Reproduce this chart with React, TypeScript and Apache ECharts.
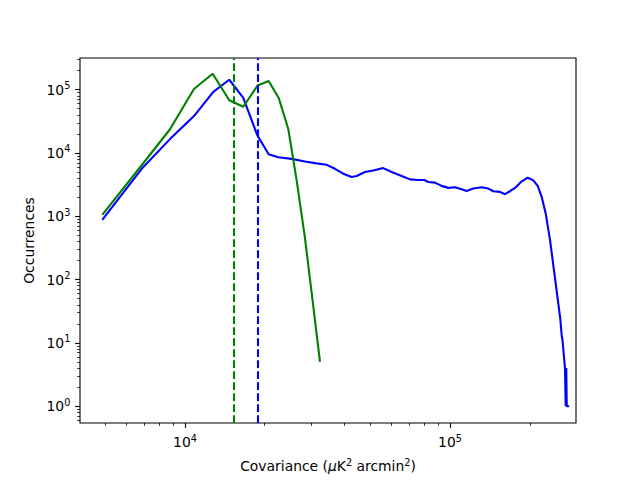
import React, { useEffect, useRef } from "react";
import * as echarts from "echarts";

// Blue histogram (covariance, occurrences)
const blueX = [4874, 6865, 8779, 10814, 12790, 14697, 16600, 18746, 20690, 22490, 25270, 28370, 30950, 34250, 36810, 39570, 42560, 44460, 47770, 51350, 55980, 60250, 65720, 70630, 75860, 79980, 82780, 87770, 93040, 98540, 104450, 110700, 115600, 122400, 131700, 139500, 145700, 154400, 161300, 168400, 176000, 186500, 196500, 206300, 214300, 221800, 229700, 238400, 247500, 255000, 260800, 264000, 265800, 271600, 273400, 274600, 275800, 281800];
const blueY = [875, 5620, 16550, 38280, 92060, 143300, 74130, 19100, 9545, 8570, 8060, 7310, 6900, 6494, 5623, 4700, 4170, 4325, 4990, 5285, 5765, 4990, 4325, 3826, 3740, 3740, 3484, 3397, 3020, 2808, 2870, 2673, 2515, 2738, 2870, 2738, 2485, 2430, 2230, 2485, 2808, 3565, 4064, 3690, 3020, 2030, 1110, 427, 129, 49, 24, 13, 11, 4, 1, 4, 1, 1];

// Green histogram
const greenX = [4874, 6865, 8779, 10814, 12720, 14697, 16600, 18800, 20690, 22580, 24550, 26400, 28370, 30360, 32320];
const greenY = [1050, 6400, 23700, 102600, 178000, 68000, 53700, 116700, 136700, 74000, 23700, 3650, 453, 44, 5];

// Vertical dashed reference lines
const greenLineX = 15270;
const blueLineX = 18860;

// Ticks
const xMajorTicks = [1e4, 1e5];
const xMinorTicks = [5000, 6000, 7000, 8000, 9000, 20000, 30000, 40000, 50000, 60000, 70000, 80000, 90000, 200000, 300000];
const yMajorTicks = [1, 10, 100, 1000, 10000, 100000];
const yMinorTicks = [
  0.6, 0.7, 0.8, 0.9,
  2, 3, 4, 5, 6, 7, 8, 9,
  20, 30, 40, 50, 60, 70, 80, 90,
  200, 300, 400, 500, 600, 700, 800, 900,
  2000, 3000, 4000, 5000, 6000, 7000, 8000, 9000,
  20000, 30000, 40000, 50000, 60000, 70000, 80000, 90000,
  200000, 300000,
];

const X_MIN = 4017;
const X_MAX = 298900;
const Y_MIN = 0.5425;
const Y_MAX = 316228;

const FONT = "DejaVu Sans";
const FS = 13.9;
const SFS = 9.7;

function expLabel(v: number) {
  const e = Math.round(Math.log10(v));
  return `{b|10}{s|${e}}`;
}

const labelRich = {
  b: { fontSize: FS, fontFamily: FONT, color: "#000", lineHeight: 18 },
  s: { fontSize: SFS, fontFamily: FONT, color: "#000", lineHeight: 8, verticalAlign: "top" },
};

const toPairs = (xs: number[], ys: number[]) => xs.map((x, i) => [x, ys[i]]);

export default function App() {
  const ref = useRef<HTMLDivElement>(null);
  useEffect(() => {
    if (!ref.current) return;
    const chart = echarts.init(ref.current, undefined, { renderer: "svg" });
    const tickLine = { color: "#000", width: 1.1 };
    const baseX = {
      type: "log" as const,
      logBase: 10,
      min: X_MIN,
      max: X_MAX,
      position: "bottom" as const,
      splitLine: { show: false },
      axisLine: { show: false },
    };
    const baseY = {
      type: "log" as const,
      logBase: 10,
      min: Y_MIN,
      max: Y_MAX,
      position: "left" as const,
      splitLine: { show: false },
      axisLine: { show: false },
    };
    chart.setOption({
      animation: false,
      backgroundColor: "#fff",
      grid: {
        left: 80,
        right: 64,
        top: 58,
        bottom: 53,
        show: true,
        borderColor: "#000",
        borderWidth: 1.1,
        backgroundColor: "transparent",
        containLabel: false,
      },
      xAxis: [
        {
          ...baseX,
          name: "Covariance ({i|μ}K{s|2} arcmin{s|2})",
          nameLocation: "middle",
          nameGap: 34,
          nameTextStyle: {
            fontSize: FS,
            fontFamily: FONT,
            color: "#000",
            lineHeight: 18,
            rich: {
              i: { fontSize: FS, fontFamily: FONT, fontStyle: "italic", color: "#000", lineHeight: 18 },
              s: { fontSize: SFS, fontFamily: FONT, color: "#000", lineHeight: 8, verticalAlign: "top" },
            },
          },
          axisTick: { show: true, inside: false, length: 4.9, lineStyle: tickLine, customValues: xMajorTicks },
          axisLabel: {
            show: true,
            margin: 10,
            customValues: xMajorTicks,
            formatter: (v: number) => expLabel(v),
            rich: labelRich,
          },
        },
        {
          ...baseX,
          axisTick: { show: true, inside: false, length: 2.8, lineStyle: { color: "#000", width: 0.8 }, customValues: xMinorTicks },
          axisLabel: { show: false },
        },
      ],
      yAxis: [
        {
          ...baseY,
          name: "Occurrences",
          nameLocation: "middle",
          nameGap: 41,
          nameTextStyle: { fontSize: FS, fontFamily: FONT, color: "#000" },
          axisTick: { show: true, inside: false, length: 4.9, lineStyle: tickLine, customValues: yMajorTicks },
          axisLabel: {
            show: true,
            margin: 9.7,
            customValues: yMajorTicks,
            formatter: (v: number) => expLabel(v),
            rich: labelRich,
          },
        },
        {
          ...baseY,
          axisTick: { show: true, inside: false, length: 2.8, lineStyle: { color: "#000", width: 0.8 }, customValues: yMinorTicks },
          axisLabel: { show: false },
        },
      ],
      series: [
        {
          type: "line",
          xAxisIndex: 0,
          yAxisIndex: 0,
          data: toPairs(blueX, blueY),
          showSymbol: false,
          symbol: "none",
          lineStyle: { color: "#0000ff", width: 2.1 },
          itemStyle: { color: "#0000ff" },
          markLine: {
            silent: true,
            symbol: ["none", "none"],
            label: { show: false },
            lineStyle: { color: "#0000ff", width: 2.1, type: [7.7, 3.3] },
            data: [{ xAxis: blueLineX }],
          },
          z: 3,
        },
        {
          type: "line",
          xAxisIndex: 0,
          yAxisIndex: 0,
          data: toPairs(greenX, greenY),
          showSymbol: false,
          symbol: "none",
          lineStyle: { color: "#008000", width: 2.1 },
          itemStyle: { color: "#008000" },
          markLine: {
            silent: true,
            symbol: ["none", "none"],
            label: { show: false },
            lineStyle: { color: "#008000", width: 2.1, type: [7.7, 3.3] },
            data: [{ xAxis: greenLineX }],
          },
          z: 3,
        },
      ],
    });
    return () => chart.dispose();
  }, []);
  return (
    <div
      ref={ref}
      style={{ position: "absolute", left: 0, top: 0, width: 640, height: 480 }}
    />
  );
}
